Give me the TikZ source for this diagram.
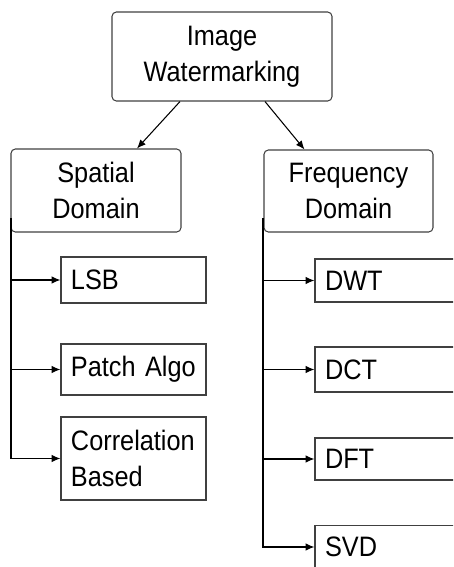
\documentclass[tikz,border=0pt]{standalone}
\usepackage{fontspec}
\setmainfont[FakeStretch=0.9]{Liberation Sans}
\usetikzlibrary{arrows.meta}
\begin{document}
\begin{tikzpicture}[>={Latex[length=5pt,width=4.2pt]}, line width=0.6pt,
  every node/.style={font=\fontsize{16}{20.5}\selectfont},
  head/.style={draw=black!75, rectangle, rounded corners=2.5pt, align=center},
  leaf/.style={draw=black!75, rectangle, align=left, inner xsep=0.2cm, text width=2.5cm}]
\clip (0,0) rectangle (9.06,-11.34);
\node[head, minimum width=4.4cm, minimum height=1.78cm] (iw) at (4.44,-1.13) {Image\\Watermarking};
\node[head, minimum width=3.4cm, minimum height=1.66cm] (sd) at (1.92,-3.81) {Spatial\\Domain};
\node[head, minimum width=3.38cm, minimum height=1.64cm] (fd) at (6.97,-3.82) {Frequency\\Domain};
\node[leaf, minimum height=0.92cm] (lsb) at (2.67,-5.6) {LSB};
\node[leaf, minimum height=1.02cm] (pa) at (2.67,-7.39) {Patch Algo};
\node[leaf, minimum height=1.66cm] (cb) at (2.67,-9.17) {Correlation\\Based};
\node[leaf, minimum height=0.86cm] (dwt) at (7.75,-5.61) {DWT};
\node[leaf, minimum height=0.9cm] (dct) at (7.75,-7.39) {DCT};
\node[leaf, minimum height=0.84cm] (dft) at (7.75,-9.18) {DFT};
\node[leaf, minimum height=0.86cm] (svd) at (7.75,-10.94) {SVD};
\coordinate (sj) at (0.22,-4.36);
\coordinate (fj) at (5.26,-4.36);
\draw[->] ([xshift=-0.84cm]iw.south) -- ([xshift=0.82cm]sd.north);
\draw[->] ([xshift=0.86cm]iw.south) -- ([xshift=-0.88cm]fd.north);
\draw[->] (sj) |- (lsb);
\draw[->] (sj) |- (pa);
\draw[->] (sj) |- (cb);
\draw[->] (fj) |- (dwt);
\draw[->] (fj) |- (dct);
\draw[->] (fj) |- (dft);
\draw[->] (fj) |- (svd);
\end{tikzpicture}
\end{document}
